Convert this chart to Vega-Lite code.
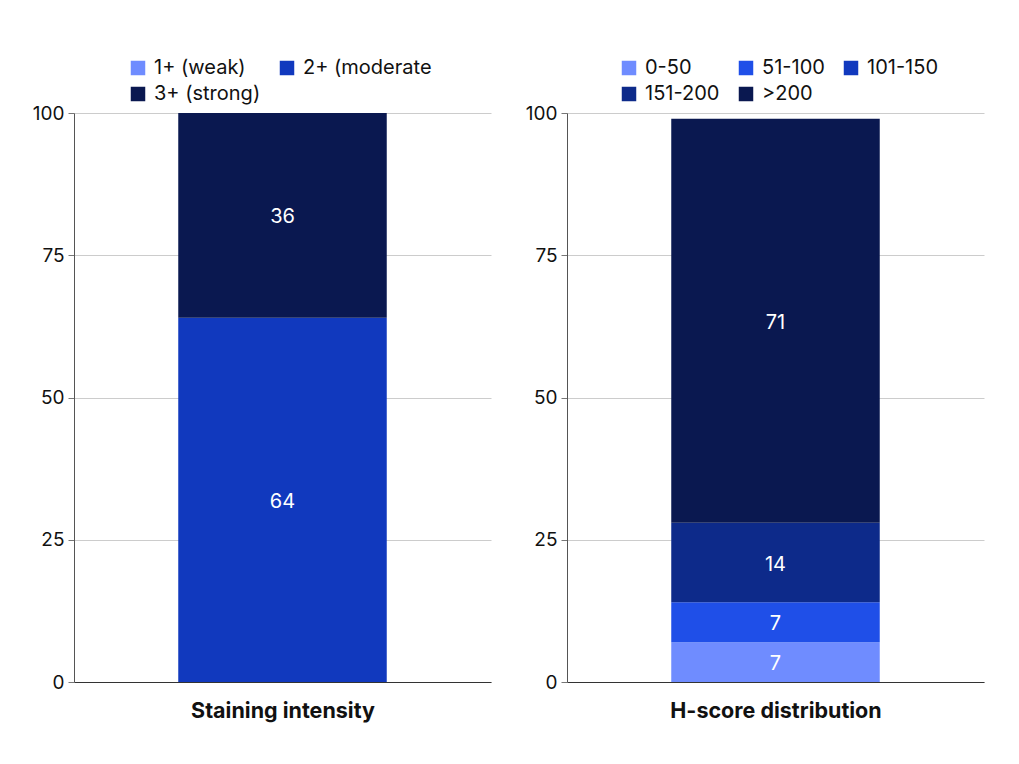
{
  "$schema": "https://vega.github.io/schema/vega-lite/v6.json",
  "background": "white",
  "padding": {"left": 32, "top": 58, "right": 10, "bottom": 10},
  "config": {
    "font": "Inter",
    "view": {"stroke": null},
    "axis": {"labelFont": "Inter", "labelFontSize": 19, "labelColor": "#111111", "titleFont": "Inter", "titleColor": "#111111", "gridColor": "#cccccc", "domainColor": "#555555", "tickColor": "#777777"},
    "legend": {"labelFont": "Inter", "labelFontSize": 20, "labelColor": "#111111", "symbolType": "square", "symbolSize": 210, "symbolStrokeWidth": 0, "direction": "horizontal", "orient": "none", "columnPadding": 16, "rowPadding": 6, "labelOffset": 6, "title": null}
  },
  "spacing": 34,
  "resolve": {"scale": {"color": "independent"}},
  "hconcat": [
    {
      "width": 417,
      "height": 569,
      "data": {"values": [
        {"group": "Staining intensity", "category": "1+ (weak)", "value": 0, "order": 1},
        {"group": "Staining intensity", "category": "2+ (moderate", "value": 64, "order": 2},
        {"group": "Staining intensity", "category": "3+ (strong)", "value": 36, "order": 3}
      ]},
      "encoding": {
        "x": {"field": "group", "type": "nominal", "scale": {"paddingInner": 0.5, "paddingOuter": 0.25}, "axis": {"labels": false, "ticks": false, "title": "Staining intensity", "titleFontWeight": "bold", "titleFontSize": 21.5, "titlePadding": 18, "domainColor": "#333333"}},
        "y": {"field": "value", "type": "quantitative", "stack": "zero", "scale": {"domain": [0, 100]}, "axis": {"values": [0, 25, 50, 75, 100], "title": null, "grid": true, "labelPadding": 4, "tickSize": 6}},
        "order": {"field": "order", "type": "quantitative"}
      },
      "layer": [
        {
          "mark": {"type": "bar"},
          "encoding": {
            "color": {"field": "category", "type": "nominal", "scale": {"domain": ["1+ (weak)", "2+ (moderate", "3+ (strong)"], "range": ["#6f8cff", "#1139be", "#0a1850"]}, "sort": ["1+ (weak)", "2+ (moderate", "3+ (strong)"], "legend": {"columns": 2, "gridAlign": "none", "legendX": 54, "legendY": -55}}
          }
        },
        {
          "transform": [{"filter": "datum.value > 0"}],
          "mark": {"type": "text", "color": "white", "fontSize": 20, "font": "Inter", "dy": 2},
          "encoding": {
            "y": {"field": "value", "type": "quantitative", "stack": "zero", "bandPosition": 0.5},
            "detail": {"field": "category"},
            "text": {"field": "value", "type": "quantitative"}
          }
        }
      ]
    },
    {
      "width": 417,
      "height": 569,
      "data": {"values": [
        {"group": "H-score distribution", "category": "0-50", "value": 7, "order": 1},
        {"group": "H-score distribution", "category": "51-100", "value": 7, "order": 2},
        {"group": "H-score distribution", "category": "101-150", "value": 0, "order": 3},
        {"group": "H-score distribution", "category": "151-200", "value": 14, "order": 4},
        {"group": "H-score distribution", "category": ">200", "value": 71, "order": 5}
      ]},
      "encoding": {
        "x": {"field": "group", "type": "nominal", "scale": {"paddingInner": 0.5, "paddingOuter": 0.25}, "axis": {"labels": false, "ticks": false, "title": "H-score distribution", "titleFontWeight": "bold", "titleFontSize": 21.5, "titlePadding": 18, "domainColor": "#333333"}},
        "y": {"field": "value", "type": "quantitative", "stack": "zero", "scale": {"domain": [0, 100]}, "axis": {"values": [0, 25, 50, 75, 100], "title": null, "grid": true, "labelPadding": 4, "tickSize": 6}},
        "order": {"field": "order", "type": "quantitative"}
      },
      "layer": [
        {
          "mark": {"type": "bar"},
          "encoding": {
            "color": {"field": "category", "type": "nominal", "scale": {"domain": ["0-50", "51-100", "101-150", "151-200", ">200"], "range": ["#6f8cff", "#1f4fe8", "#1139be", "#0d2a8a", "#0a1850"]}, "sort": ["0-50", "51-100", "101-150", "151-200", ">200"], "legend": {"columns": 3, "gridAlign": "none", "legendX": 52, "legendY": -55}}
          }
        },
        {
          "transform": [{"filter": "datum.value > 0"}],
          "mark": {"type": "text", "color": "white", "fontSize": 20, "font": "Inter", "dy": 2},
          "encoding": {
            "y": {"field": "value", "type": "quantitative", "stack": "zero", "bandPosition": 0.5},
            "detail": {"field": "category"},
            "text": {"field": "value", "type": "quantitative"}
          }
        }
      ]
    }
  ]
}
